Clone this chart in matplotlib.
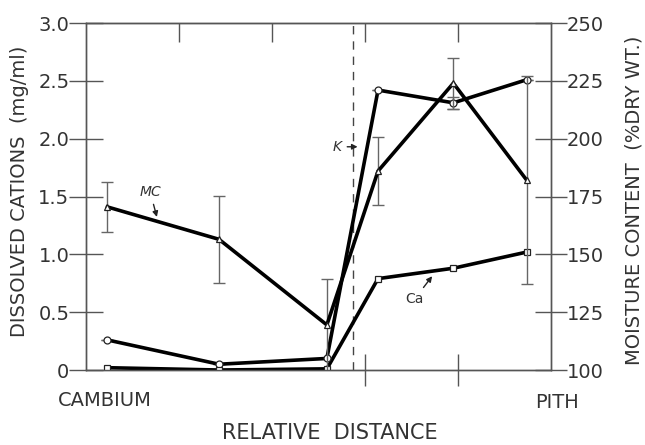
import matplotlib
matplotlib.use("Agg")
import matplotlib.pyplot as plt

plt.rcParams['font.family'] = ['DejaVu Sans']

# ---- data ----
positions = [0.23, 1.43, 2.59, 3.14, 3.95, 4.74]
k_vals = [0.26, 0.05, 0.10, 2.42, 2.31, 2.51]
k_err = [0, 0, 0, 0, 0.05, 0]
ca_vals = [0.02, 0.0, 0.01, 0.79, 0.88, 1.02]
mc_vals = [170.5, 156.5, 119.5, 186, 224, 182]
mc_err = [10.8, 18.8, 20, 14.8, 11, 45]
k_boundary = 2.87
left_ticks = [0, 0.5, 1.0, 1.5, 2.0, 2.5, 3.0]
left_labels = ['0', '0.5', '1.0', '1.5', '2.0', '2.5', '3.0']
right_ticks = [100, 125, 150, 175, 200, 225, 250]
right_labels = ['100', '125', '150', '175', '200', '225', '250']
top_ticks = [1, 2, 3, 4]
bottom_ticks = [3, 4]

txt = '#333333'
spc = '#555555'

fig = plt.figure(figsize=(6.45, 4.45), dpi=100)
ax = fig.add_axes([0.1333, 0.1685, 0.7210, 0.7798])
ax.set_xlim(0, 5)
ax.set_ylim(0, 3)

for s in ax.spines.values():
    s.set_color(spc)
    s.set_linewidth(1.0)

lw = 2.6
ms = 5
# K (circles)
ax.errorbar(positions, k_vals, yerr=k_err, fmt='none', ecolor='#666666',
            elinewidth=1.0, capsize=4, zorder=2)
ax.plot(positions, k_vals, '-', color='black', lw=lw, zorder=3)
ax.plot(positions, k_vals, 'o', mfc='white', mec='#222222', ms=ms, mew=0.9, zorder=4)
# Ca (squares)
ax.plot(positions, ca_vals, '-', color='black', lw=lw, zorder=3)
ax.plot(positions, ca_vals, 's', mfc='white', mec='#222222', ms=ms, mew=0.9, zorder=4)

ax.axvline(k_boundary, color='#444444', lw=1.0, ls=(0, (6, 5)), zorder=1)

ax.set_yticks(left_ticks)
ax.set_yticklabels(left_labels)
ax.set_xticks(bottom_ticks)
ax.set_xticklabels([])
ax.tick_params(axis='y', direction='inout', length=24, width=1.0, color=spc,
               labelsize=14, labelcolor=txt, pad=0)
ax.tick_params(axis='x', direction='inout', length=23, width=1.0, color=spc)

sec = ax.secondary_xaxis('top')
sec.set_xticks(top_ticks)
sec.set_xticklabels([])
sec.tick_params(direction='in', length=14, width=1.0, color=spc)
sec.spines['top'].set_color(spc)

ax2 = ax.twinx()
ax2.set_ylim(100, 250)
ax2.set_yticks(right_ticks)
ax2.set_yticklabels(right_labels)
ax2.tick_params(axis='y', direction='inout', length=23, width=1.0, color=spc,
                labelsize=14, labelcolor=txt, pad=0)
for s in ax2.spines.values():
    s.set_color(spc)
    s.set_linewidth(1.0)

ax2.errorbar(positions, mc_vals, yerr=mc_err, fmt='none', ecolor='#666666',
             elinewidth=1.0, capsize=4, zorder=2)
ax2.plot(positions, mc_vals, '-', color='black', lw=lw, zorder=3)
ax2.plot(positions, mc_vals, '^', mfc='white', mec='#222222', ms=ms, mew=0.9, zorder=4)

# annotations
ax.annotate('MC', xy=(0.77, 1.30), xytext=(0.69, 1.54), fontsize=10, style='italic',
            color=txt, ha='center', va='center',
            arrowprops=dict(arrowstyle='-|>', color='#222222', lw=1.0, mutation_scale=8))
ax.annotate('K', xy=(2.95, 1.93), xytext=(2.70, 1.93), fontsize=10, style='italic',
            color=txt, ha='center', va='center',
            arrowprops=dict(arrowstyle='-|>', color='#222222', lw=1.0, mutation_scale=8))
ax.annotate('Ca', xy=(3.74, 0.83), xytext=(3.53, 0.61), fontsize=10,
            color=txt, ha='center', va='center',
            arrowprops=dict(arrowstyle='-|>', color='#222222', lw=1.0, mutation_scale=8))

# labels
fig.text(20/645, 1-191/445, 'DISSOLVED CATIONS  (mg/ml)', rotation=90,
         ha='center', va='center', fontsize=14, color=txt)
fig.text(634/645, 1-200/445, 'MOISTURE CONTENT  (%DRY WT.)', rotation=90,
         ha='center', va='center', fontsize=14, color=txt)
fig.text(330/645, 1-433/445, 'RELATIVE  DISTANCE', ha='center', va='center',
         fontsize=15, color=txt)
fig.text(105/645, 1-400/445, 'CAMBIUM', ha='center', va='center', fontsize=14, color=txt)
fig.text(557/645, 1-402/445, 'PITH', ha='center', va='center', fontsize=14, color=txt)

fig.savefig('out.png', dpi=100)
